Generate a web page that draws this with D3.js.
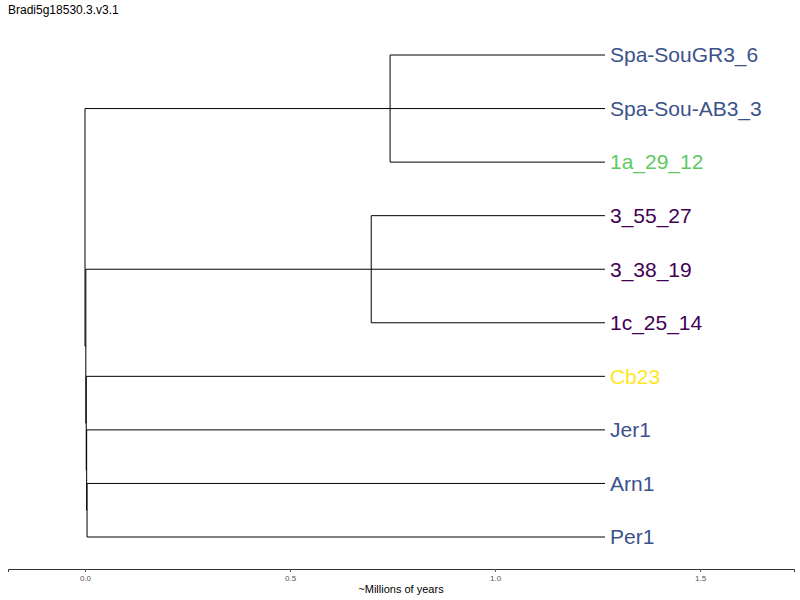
<!DOCTYPE html>
<html><head><meta charset="utf-8">
<script src="https://cdn.jsdelivr.net/npm/d3@7"></script>
<style>body{margin:0;background:#fff}text{font-family:"Liberation Sans",Arial,sans-serif}</style>
</head><body>
<script>
// tree nodes: id, parent, branch length (millions of years)
var nodeIds   = ["root","A","Spa-SouGR3_6","Spa-Sou-AB3_3","1a_29_12","n1","B","3_55_27","3_38_19","1c_25_14","n2","Cb23","n3","Jer1","n4","Arn1","Per1"];
var parentIds = ["", "root","A","A","A","root","n1","B","B","B","n1","n2","n2","n3","n3","n4","n4"];
var lengths   = [0, 0.744,0.524,0.524,0.524,0.002,0.696,0.570,0.570,0.570,0.001,1.265,0.001,1.264,0.001,1.263,1.263];
var tipColors = {"Spa-SouGR3_6":"#3b528b","Spa-Sou-AB3_3":"#3b528b","1a_29_12":"#5ec962",
  "3_55_27":"#440154","3_38_19":"#440154","1c_25_14":"#440154","Cb23":"#fde725",
  "Jer1":"#3b528b","Arn1":"#3b528b","Per1":"#3b528b"};
var tickValues = [0, 0.5, 1.0, 1.5];

var W = 800, H = 600;
var svg = d3.select("body").append("svg").attr("width", W).attr("height", H);

var rows = nodeIds.map(function(d, i){ return {id: d, parent: parentIds[i], len: lengths[i]}; });
var root = d3.stratify().id(function(d){return d.id;}).parentId(function(d){return d.parent || null;})(rows);

root.eachBefore(function(n){ n.dist = (n.parent ? n.parent.dist : 0) + n.data.len; });
var leaves = root.leaves();
var x = d3.scaleLinear().domain([-0.1878, 1.729]).range([8, 794]);
var y = d3.scalePoint().domain(leaves.map(function(d){return d.id;})).range([55, 537]);
leaves.forEach(function(l){ l.yy = y(l.id); });
root.eachAfter(function(n){
  if (n.children) n.yy = (n.children[0].yy + n.children[n.children.length-1].yy) / 2;
});

var g = svg.append("g").attr("fill", "none").attr("stroke", "#000").attr("stroke-width", 1);
root.descendants().forEach(function(n){
  if (n.parent) {
    g.append("line").attr("x1", x(n.parent.dist)).attr("x2", x(n.dist))
      .attr("y1", n.yy).attr("y2", n.yy);
  }
  if (n.children) {
    g.append("line").attr("x1", x(n.dist)).attr("x2", x(n.dist))
      .attr("y1", n.children[0].yy).attr("y2", n.children[n.children.length-1].yy);
  }
});

svg.selectAll(".tip").data(leaves).enter().append("text")
  .attr("x", function(d){ return x(d.dist) + 5; })
  .attr("y", function(d){ return d.yy; })
  .attr("dy", "0.35em").attr("font-size", 21)
  .attr("fill", function(d){ return tipColors[d.id]; })
  .text(function(d){ return d.id; });

var axis = svg.append("g").attr("transform", "translate(0,569)")
  .call(d3.axisBottom(x).tickValues(tickValues).tickSize(3).tickFormat(d3.format(".1f")));
axis.select(".domain").attr("stroke", "#333");
axis.selectAll(".tick line").attr("stroke", "#555");
axis.selectAll(".tick text").attr("fill", "#555").attr("font-size", 8).attr("font-family", "Liberation Sans, Arial");

svg.append("text").attr("x", 401).attr("y", 593).attr("text-anchor", "middle")
  .attr("font-size", 11).text("~Millions of years");
svg.append("text").attr("x", 8).attr("y", 14).attr("font-size", 12).text("Bradi5g18530.3.v3.1");
</script>
</body></html>
